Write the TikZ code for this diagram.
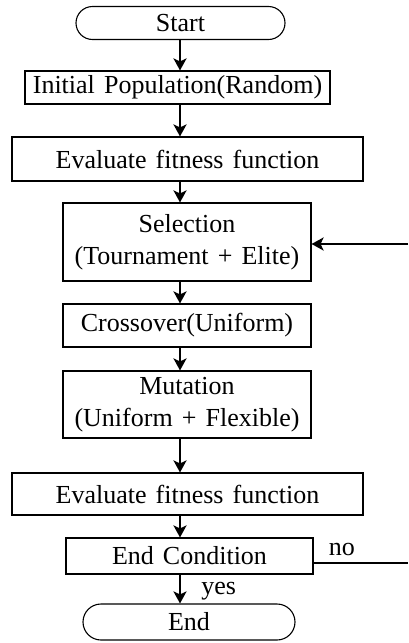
\documentclass[tikz,border=0pt]{standalone}
\usepackage{fontspec}
\setmainfont{Liberation Serif}[WordSpace=1.4]
\usetikzlibrary{arrows.meta,shapes.misc}
\begin{document}
\begin{tikzpicture}[x=1pt,y=-1pt,
  every node/.style={font=\fontsize{26}{32}\selectfont, inner sep=0pt},
  box/.style={draw, line width=1.1pt, align=center},
  term/.style={draw, line width=1.1pt, rounded rectangle},
  arr/.style={line width=2.6pt, -{Stealth[length=12pt,width=13pt,inset=3pt]}},
  lbl/.style={font=\fontsize{26}{28}\selectfont}
]
\useasboundingbox (0,0) rectangle (408,643);
\fill[white] (0,0) rectangle (408,643);
\coordinate (ax) at (180,0);
\node[term, minimum width=209pt, minimum height=33pt] (start) at (180.5,23) {Start};
\node[box, minimum width=305pt, minimum height=33pt] (init) at (177.5,87.5) {Initial Population(Random)};
\node[box, minimum width=351pt, minimum height=44pt] (eval1) at (187.5,159) {Evaluate fitness function};
\node[box, minimum width=248pt, minimum height=78pt] (sel) at (187,242) {Selection\\(Tournament + Elite)};
\node[box, minimum width=248pt, minimum height=43pt] (cross) at (187,325.5) {Crossover(Uniform)};
\node[box, minimum width=248pt, minimum height=67pt] (mut) at (187,404.5) {Mutation\\(Uniform + Flexible)};
\node[box, minimum width=351pt, minimum height=42pt] (eval2) at (187.5,494) {Evaluate fitness function};
\node[box, minimum width=247pt, minimum height=36pt] (endc) at (189.5,556) {End Condition};
\node[term, minimum width=212pt, minimum height=36pt] (endn) at (189,622) {End};
\coordinate (rin) at (408,244);
\coordinate (rno) at (408,563);
\draw[arr] (start.south -| ax) -- (init.north -| ax);
\draw[arr] (init.south -| ax) -- (eval1.north -| ax);
\draw[arr] (eval1.south -| ax) -- (sel.north -| ax);
\draw[arr] (sel.south -| ax) -- (cross.north -| ax);
\draw[arr] (cross.south -| ax) -- (mut.north -| ax);
\draw[arr] (mut.south -| ax) -- (eval2.north -| ax);
\draw[arr] (eval2.south -| ax) -- (endc.north -| ax);
\draw[arr] (endc.south -| ax) -- (endn.north -| ax) node[lbl, midway, right=20pt, yshift=-2pt] (yes) {yes};
\draw[arr] (rin) -- (sel.east |- rin);
\draw[line width=2.6pt] (endc.east |- rno) -- (rno) node[lbl, pos=0.3, above=6pt] (no) {no};
\end{tikzpicture}
\end{document}
